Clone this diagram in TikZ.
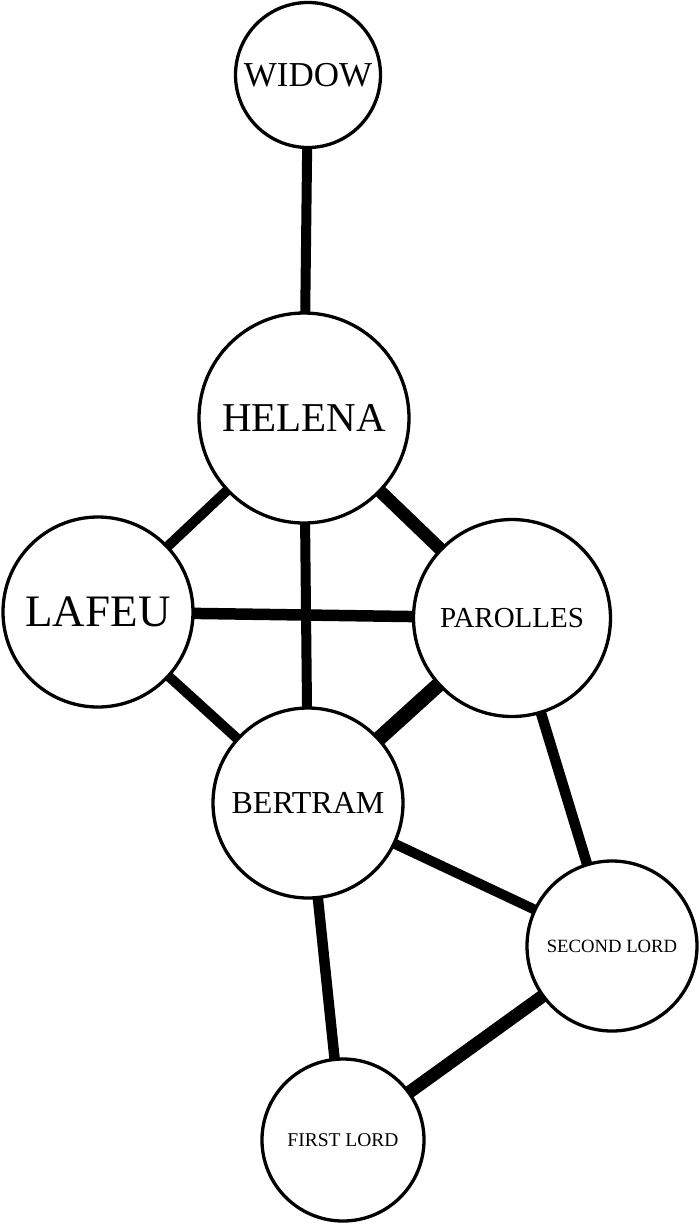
\documentclass[tikz,border=0pt]{standalone}
\usepackage{fontspec}
\setmainfont{Liberation Serif}
\usetikzlibrary{backgrounds}
\begin{document}
\begin{tikzpicture}[x=1pt,y=-1pt,
  person/.style={circle, draw=black, line width=3.3pt, fill=white, inner sep=0pt},
  tie/.style={line width=#1, draw=black}]
\useasboundingbox (0,0) rectangle (700,1227);
\node[person, minimum size=145pt, font=\fontsize{35}{40}\selectfont] (widow) at (308,75) {WIDOW};
\node[person, minimum size=210pt, font=\fontsize{41}{46}\selectfont] (helena) at (304,418) {HELENA};
\node[person, minimum size=190pt, font=\fontsize{45}{50}\selectfont] (lafeu) at (98,612) {LAFEU};
\node[person, minimum size=197pt, font=\fontsize{29}{34}\selectfont] (parolles) at (512,618) {PAROLLES};
\node[person, minimum size=190pt, font=\fontsize{32}{36}\selectfont] (bertram) at (308,803) {BERTRAM};
\node[person, minimum size=170pt, font=\fontsize{18.7}{22}\selectfont] (second) at (612,946) {SECOND LORD};
\node[person, minimum size=162pt, font=\fontsize{19.5}{23}\selectfont] (first) at (343,1140) {FIRST LORD};
\begin{scope}[on background layer]
\draw[tie=10pt] (widow.center) -- (helena.center);
\draw[tie=10pt] (helena.center) -- (lafeu.center);
\draw[tie=13pt] (helena.center) -- (parolles.center);
\draw[tie=10pt] (helena.center) -- (bertram.center);
\draw[tie=11.5pt] (lafeu.center) -- (parolles.center);
\draw[tie=10pt] (lafeu.center) -- (bertram.center);
\draw[tie=15pt] (parolles.center) -- (bertram.center);
\draw[tie=10.5pt] (parolles.center) -- (second.center);
\draw[tie=10pt] (bertram.center) -- (second.center);
\draw[tie=10.5pt] (bertram.center) -- (first.center);
\draw[tie=13pt] (second.center) -- (first.center);
\end{scope}
\end{tikzpicture}
\end{document}
